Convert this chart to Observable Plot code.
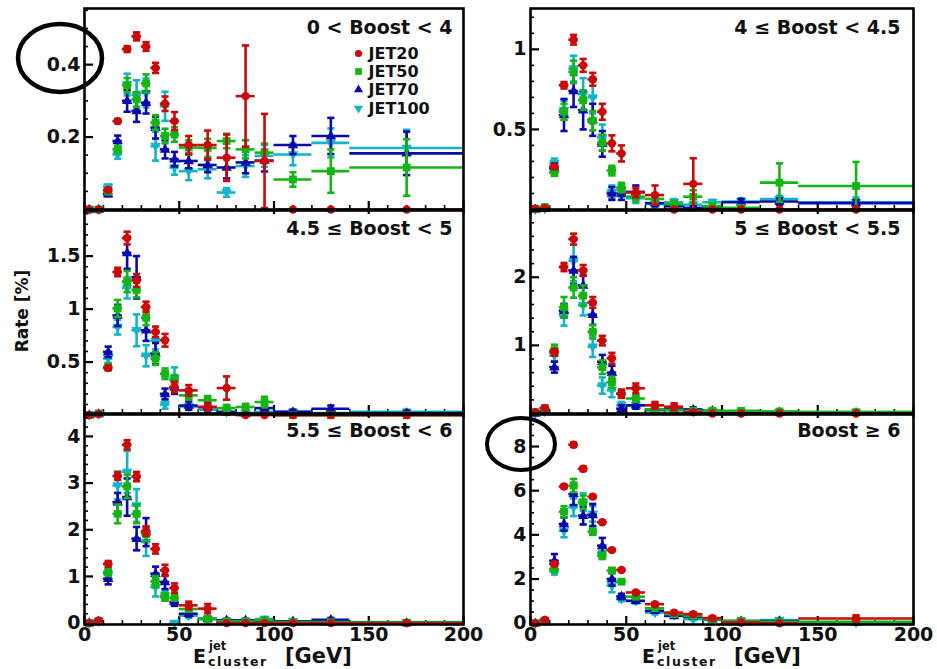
<!DOCTYPE html>
<html><head><meta charset="utf-8">
<script src="https://cdn.jsdelivr.net/npm/d3@7"></script>
<script src="https://cdn.jsdelivr.net/npm/@observablehq/plot@0.6"></script>
<style>
body{margin:0;background:#fff;}
#chart{position:relative;width:937px;height:669px;overflow:hidden;background:#fff;font-family:"DejaVu Sans",sans-serif;}
#chart svg{position:absolute;}
</style></head><body><div id="chart"></div>
<script>
// ---------- data ----------
const binEdges   = [0,5,10,15,20,25,30,35,40,45,50,60,70,80,90,100,120,140,200];
const binCenters = [2.5,7.5,12.5,17.5,22.5,27.5,32.5,37.5,42.5,47.5,55,65,75,85,95,110,130,170];
const seriesNames  = ["JET20","JET50","JET70","JET100"];
const seriesColors = ["#c80a0a","#14b414","#0a0aaa","#14b4c8"];
const boostLabels = ["0 < Boost < 4","4 \u2264 Boost < 4.5","4.5 \u2264 Boost < 5","5 \u2264 Boost < 5.5","5.5 \u2264 Boost < 6","Boost \u2265 6"];
const xMajorTicks = [0,50,100,150,200];
const xMinorTicks = [10,20,30,40,60,70,80,90,110,120,130,140,160,170,180,190];

// rates [%] per boost bin: JET20, JET50, JET70, JET100
const rate_b0 = [
  [0,0,0.054,0.244,0.443,0.478,0.45,0.391,0.292,0.244,0.178,0.178,0.143,0.313,0.134,0,0,0],
  [0,0,0.049,0.166,0.343,0.304,0.348,0.24,0.203,0.207,0.171,0.17,0.189,0.166,0.157,0.083,0.106,0.116],
  [0,0,0.042,0.189,0.3,0.272,0.295,0.226,0.166,0.139,0.134,0.123,0.116,0.13,0.135,0.178,0.203,0.155],
  [0,0,0.063,0.152,0.345,0.317,0.322,0.175,0.285,0.116,0.106,0.111,0.047,0.12,0.148,0.152,0.184,0.17]];
const err_b0 = [
  [0,0,0.005,0.006,0.008,0.011,0.012,0.014,0.02,0.025,0.025,0.04,0.064,0.14,0.13,0,0,0],
  [0,0,0.005,0.01,0.02,0.02,0.025,0.02,0.02,0.02,0.02,0.025,0.02,0.025,0.025,0.02,0.06,0.078],
  [0,0,0.005,0.015,0.03,0.03,0.03,0.03,0.025,0.02,0.02,0.02,0.03,0.03,0.03,0.025,0.05,0.06],
  [0,0,0.006,0.012,0.03,0.04,0.04,0.04,0.04,0.02,0.025,0.025,0.012,0.03,0.03,0.03,0.04,0.05]];

const rate_b1 = [
  [0.005,0.01,0.268,0.776,1.06,0.9,0.813,0.61,0.413,0.35,0.106,0.09,0,0.16,0,0,0,0],
  [0.005,0.015,0.23,0.61,0.859,0.683,0.554,0.417,0.243,0.137,0.08,0.066,0.033,0.08,0.02,0.01,0.168,0.147],
  [0,0.005,0.257,0.59,0.74,0.62,0.56,0.41,0.1,0.1,0.11,0.04,0.02,0.01,0.01,0.045,0.05,0.04],
  [0,0.005,0.288,0.62,0.88,0.72,0.7,0.45,0.11,0.12,0.07,0.035,0.045,0.03,0.045,0.05,0.066,0.045]];
const err_b1 = [
  [0,0.005,0.015,0.02,0.03,0.04,0.04,0.05,0.05,0.05,0.03,0.06,0,0.16,0,0,0,0],
  [0,0.005,0.02,0.05,0.07,0.06,0.06,0.05,0.03,0.03,0.03,0.03,0.02,0.04,0.02,0.01,0.12,0.15],
  [0,0.003,0.03,0.1,0.1,0.12,0.1,0.08,0.04,0.04,0.04,0.02,0.01,0.01,0.01,0.02,0.02,0.02],
  [0,0.003,0.03,0.06,0.08,0.1,0.1,0.08,0.04,0.04,0.03,0.02,0.02,0.015,0.015,0.02,0.02,0.03]];

const rate_b2 = [
  [0,0.01,0.445,1.35,1.67,1.27,1.02,0.785,0.706,0.265,0.233,0.076,0.255,0,0,0,0,0],
  [0,0.015,0.454,1.006,1.26,1.18,0.918,0.533,0.39,0.328,0.186,0.14,0.066,0.076,0.123,0,0,0],
  [0,0.01,0.596,0.94,1.53,1.3,0.8,0.58,0.2,0.26,0.09,0.076,0.03,0.01,0.066,0.03,0.06,0.02],
  [0,0.01,0.533,0.83,1.2,0.8,0.56,0.7,0.1,0.35,0.08,0.05,0.03,0.02,0.03,0.03,0.02,0.03]];
const err_b2 = [
  [0,0,0.02,0.04,0.06,0.06,0.05,0.05,0.06,0.05,0.05,0.04,0.11,0,0,0,0,0],
  [0,0.005,0.03,0.08,0.1,0.07,0.07,0.06,0.05,0.05,0.04,0.04,0.03,0.03,0.05,0,0,0],
  [0,0.005,0.05,0.1,0.15,0.2,0.1,0.1,0.05,0.06,0.04,0.03,0.02,0.01,0.03,0.02,0.03,0.02],
  [0,0.005,0.04,0.07,0.1,0.15,0.1,0.08,0.04,0.1,0.03,0.03,0.02,0.01,0.02,0.02,0.01,0.02]];

const rate_b3 = [
  [0.02,0.08,0.9,2.15,2.56,2.1,1.63,1.07,0.81,0.29,0.37,0.12,0.1,0.02,0,0,0,0],
  [0.02,0.08,0.93,1.56,1.85,1.73,1.2,0.68,0.46,0.29,0.22,0.06,0.05,0.04,0.04,0.04,0.03,0.02],
  [0,0.03,0.68,1.51,2.1,1.88,1.45,0.76,0.6,0.07,0.12,0.05,0.06,0.06,0.04,0.02,0.02,0.01],
  [0,0.03,0.85,1.44,2.24,1.59,0.98,0.41,0.34,0.12,0.12,0.06,0.05,0.03,0.03,0.02,0.02,0.02]];
const err_b3 = [
  [0,0.02,0.05,0.06,0.08,0.08,0.08,0.07,0.08,0.06,0.07,0.05,0.05,0.02,0,0,0,0],
  [0,0.02,0.08,0.15,0.15,0.15,0.1,0.1,0.08,0.06,0.05,0.03,0.02,0.02,0.02,0.02,0.01,0.01],
  [0,0.02,0.08,0.1,0.2,0.15,0.15,0.1,0.1,0.05,0.05,0.03,0.03,0.03,0.02,0.01,0.01,0.01],
  [0,0.02,0.08,0.15,0.3,0.15,0.15,0.12,0.1,0.05,0.05,0.03,0.02,0.02,0.02,0.01,0.01,0.01]];

const rate_b4 = [
  [0,0.05,1.27,3.15,3.82,3.14,1.97,1.59,1.13,0.75,0.38,0.31,0,0,0,0,0,0],
  [0,0.05,1.09,2.34,2.93,2.34,1.91,0.89,0.56,0.54,0.3,0.09,0.04,0.04,0.06,0.02,0.02,0.01],
  [0,0.04,0.95,2.59,2.7,1.81,1.95,1.06,0.88,0.45,0.2,0.09,0.06,0.06,0.04,0.04,0.07,0],
  [0,0.04,1.05,2.95,3.24,2.52,1.74,0.77,0.59,0,0.16,0.09,0.04,0.04,0.09,0.04,0.04,0.02]];
const err_b4 = [
  [0,0.02,0.06,0.08,0.1,0.1,0.1,0.1,0.12,0.1,0.08,0.1,0,0,0,0,0,0],
  [0,0.02,0.08,0.2,0.25,0.2,0.15,0.12,0.08,0.06,0.05,0.03,0.02,0.02,0.03,0.01,0.01,0.01],
  [0,0.02,0.12,0.2,0.4,0.25,0.3,0.15,0.15,0.08,0.06,0.03,0.03,0.03,0.02,0.02,0.04,0],
  [0,0.02,0.1,0.3,0.45,0.35,0.3,0.2,0.1,0,0.05,0.03,0.02,0.02,0.04,0.02,0.02,0.01]];

const rate_b5 = [
  [0,0.15,2.68,6.19,8.08,6.99,5.73,4.57,3.31,2.41,1.39,0.86,0.48,0.41,0.23,0.03,0,0.21],
  [0,0.12,2.45,5.05,6.23,5.48,4.15,3.06,2.38,1.88,1.2,0.68,0.41,0.33,0.18,0.1,0.06,0.06],
  [0,0.1,2.83,4.49,5.85,4.87,4.9,3.51,2.0,1.21,1.01,0.56,0.33,0.29,0.18,0.1,0.1,0.03],
  [0,0.1,2.35,4.19,5.25,5.48,4.95,3.2,1.7,1.09,1.01,0.48,0.36,0.18,0.15,0.1,0.14,0.03]];
const err_b5 = [
  [0,0.05,0.06,0.08,0.1,0.1,0.08,0.07,0.06,0.06,0.06,0.06,0.06,0.08,0.08,0.05,0,0.15],
  [0,0.05,0.15,0.25,0.3,0.3,0.15,0.12,0.12,0.1,0.08,0.06,0.05,0.05,0.04,0.03,0.02,0.02],
  [0,0.05,0.3,0.3,0.5,0.4,0.5,0.35,0.3,0.12,0.1,0.08,0.06,0.06,0.04,0.03,0.04,0.02],
  [0,0.05,0.15,0.3,0.4,0.4,0.35,0.3,0.3,0.1,0.1,0.08,0.06,0.05,0.04,0.03,0.04,0.02]];

// y axis ticks per panel
const yMajor = [[0.2,0.4],[0.5,1],[0.5,1,1.5],[1,2],[0,1,2,3,4],[0,2,4,6,8]];
const yMinor = [
  [0.05,0.1,0.15,0.25,0.3,0.35,0.45,0.5,0.55],
  [0.1,0.2,0.3,0.4,0.6,0.7,0.8,0.9,1.1,1.2],
  [0.1,0.2,0.3,0.4,0.6,0.7,0.8,0.9,1.1,1.2,1.3,1.4,1.6,1.7,1.8,1.9],
  [0.2,0.4,0.6,0.8,1.2,1.4,1.6,1.8,2.2,2.4,2.6,2.8],
  [0.2,0.4,0.6,0.8,1.2,1.4,1.6,1.8,2.2,2.4,2.6,2.8,3.2,3.4,3.6,3.8,4.2,4.4],
  [0.5,1,1.5,2.5,3,3.5,4.5,5,5.5,6.5,7,7.5,8.5,9]];
const yDomains = [[0,0.555],[0,1.255],[0.015,1.93],[0,2.98],[-0.03,4.47],[-0.06,9.45]];
const rates = [rate_b0,rate_b1,rate_b2,rate_b3,rate_b4,rate_b5];
const errs  = [err_b0,err_b1,err_b2,err_b3,err_b4,err_b5];

// ---------- layout ----------
const cols = [{left:0,width:490,ml:84,mr:27},{left:466,width:471,ml:64,mr:24}];
const rows = [{top:0,height:215,mt:8,mb:6},{top:205,height:215,mt:5,mb:7},{top:405,height:264,mt:9,mb:45}];
const labelDx = [-11,-13];
const labelDy = [19,18,16];

const triDown = {draw(ctx,size){const r=Math.sqrt(size/Math.PI);ctx.moveTo(0,r*1.15);ctx.lineTo(r*1.05,-r*0.65);ctx.lineTo(-r*1.05,-r*0.65);ctx.closePath();}};
const triUp = {draw(ctx,size){const r=Math.sqrt(size/Math.PI);ctx.moveTo(0,-r*1.15);ctx.lineTo(r*1.05,r*0.65);ctx.lineTo(-r*1.05,r*0.65);ctx.closePath();}};
const capSym = {draw(ctx,size){const r=Math.sqrt(size/Math.PI);ctx.moveTo(-r,0);ctx.lineTo(r,0);}};
const symbols = ["circle","square",triUp,triDown];
const markerR = [4.2,4.4,5,5];

const chart = document.getElementById("chart");

for (let p = 0; p < 6; p++) {
  const col = cols[p % 2], row = rows[Math.floor(p / 2)];
  const rIdx = Math.floor(p / 2);
  const fw = col.width - col.ml - col.mr;
  const fh = row.height - row.mt - row.mb;
  const marks = [];
  const tk = {stroke: "black"};
  marks.push(Plot.ruleX(xMinorTicks, {x: d => d, insetTop: fh - 4, strokeWidth: 1.6, ...tk}));
  marks.push(Plot.ruleX(xMajorTicks, {x: d => d, insetTop: fh - 8, strokeWidth: 2.2, ...tk}));
  if (rIdx > 0) marks.push(Plot.ruleX(xMajorTicks, {x: d => d, insetBottom: fh - 4, strokeWidth: 2.2, ...tk}));
  marks.push(Plot.ruleY(yMinor[p], {y: d => d, insetRight: fw - 4, strokeWidth: 1.6, ...tk}));
  marks.push(Plot.ruleY(yMajor[p], {y: d => d, insetRight: fw - 9, strokeWidth: 2.2, ...tk}));

  for (const s of [3, 2, 1, 0]) {
    const data = binCenters.map((c, i) => ({x: c, x1: binEdges[i], x2: binEdges[i + 1], y: rates[p][s][i], e: errs[p][s][i]}));
    const withErr = data.filter(d => d.e > 0);
    const color = seriesColors[s];
    marks.push(Plot.ruleY(data, {y: "y", x1: "x1", x2: "x2", stroke: color, strokeWidth: 2.6}));
    marks.push(Plot.ruleX(withErr, {x: "x", y1: d => d.y - d.e, y2: d => d.y + d.e, stroke: color, strokeWidth: 2.6}));
    marks.push(Plot.dot(withErr, {x: "x", y: d => d.y + d.e, symbol: capSym, r: 3.6, stroke: color, strokeWidth: 2.6, fill: "none"}));
    marks.push(Plot.dot(withErr, {x: "x", y: d => d.y - d.e, symbol: capSym, r: 3.6, stroke: color, strokeWidth: 2.6, fill: "none"}));
    marks.push(Plot.dot(data, {x: "x", y: "y", symbol: symbols[s], r: markerR[s], fill: color, stroke: "none"}));
  }
  marks.push(Plot.frame({stroke: "black", strokeWidth: 2.6}));

  // y tick labels
  marks.push(Plot.text(yMajor[p], {y: d => d, text: d => String(d), frameAnchor: "left", textAnchor: "end", dx: -4, fontSize: 19, fontWeight: "bold", fill: "#111"}));
  // x tick labels on bottom row
  if (rIdx === 2) marks.push(Plot.text(xMajorTicks, {x: d => d, text: d => String(d), frameAnchor: "bottom", lineAnchor: "top", dy: 3, fontSize: 19, fontWeight: "bold", fill: "#111"}));
  // boost label
  marks.push(Plot.text([boostLabels[p]], {text: d => d, frameAnchor: "top-right", textAnchor: "end", lineAnchor: "middle", dx: labelDx[p % 2], dy: labelDy[rIdx], fontSize: 19, fontWeight: "bold", fill: "#111"}));
  // legend in first panel
  if (p === 0) {
    const legDy = [45, 63, 81, 100];
    for (let s = 0; s < 4; s++) {
      marks.push(Plot.dot([seriesNames[s]], {frameAnchor: "top-right", dx: -105, dy: legDy[s], symbol: symbols[s], r: markerR[s] - 0.6, fill: seriesColors[s]}));
      marks.push(Plot.text([seriesNames[s]], {text: d => d, frameAnchor: "top-right", dx: -95, dy: legDy[s], textAnchor: "start", lineAnchor: "middle", fontSize: 16, fontWeight: "bold", fill: "#111", letterSpacing: 1}));
    }
  }

  const svg = Plot.plot({
    width: col.width, height: row.height,
    marginLeft: col.ml, marginRight: col.mr, marginTop: row.mt, marginBottom: row.mb,
    x: {domain: [0, 200], axis: null},
    y: {domain: yDomains[p], axis: null},
    style: {background: "transparent", overflow: "visible", fontFamily: "DejaVu Sans, sans-serif", fontSize: "19px"},
    marks
  });
  svg.style.left = col.left + "px";
  svg.style.top = row.top + "px";
  chart.appendChild(svg);
}

// ---------- overlay: axis titles and annotation circles ----------
const ov = d3.select(chart).append("svg")
  .attr("width", 937).attr("height", 669)
  .style("left", "0px").style("top", "0px").style("pointer-events", "none")
  .style("font-family", "DejaVu Sans, sans-serif").style("font-weight", "bold").attr("fill", "#111");

ov.append("text").attr("transform", "translate(28,311) rotate(-90)")
  .attr("text-anchor", "middle").attr("font-size", 17).text("Rate  [%]");

for (const x0 of [193, 642]) {
  ov.append("text").attr("x", x0).attr("y", 663).attr("font-size", 19).text("E");
  ov.append("text").attr("x", x0 + 16).attr("y", 650).attr("font-size", 11.5).text("jet");
  ov.append("text").attr("x", x0 + 15).attr("y", 666).attr("font-size", 12.5).attr("letter-spacing", 1.6).text("cluster");
  ov.append("text").attr("x", x0 + 92).attr("y", 663).attr("font-size", 21).text("[GeV]");
}

ov.append("ellipse").attr("cx", 60).attr("cy", 58).attr("rx", 42).attr("ry", 34)
  .attr("fill", "none").attr("stroke", "black").attr("stroke-width", 4.5);
ov.append("ellipse").attr("cx", 521).attr("cy", 444).attr("rx", 34).attr("ry", 26)
  .attr("fill", "none").attr("stroke", "black").attr("stroke-width", 4);
</script></body></html>
